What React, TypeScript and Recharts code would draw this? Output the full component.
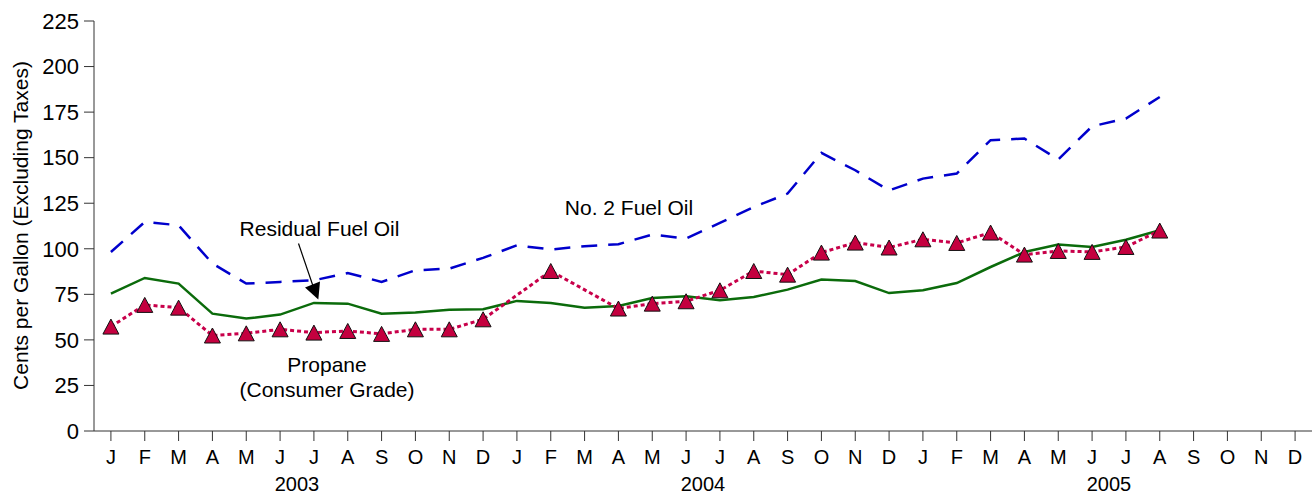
import React from "react";
import { LineChart, Line, XAxis, YAxis } from "recharts";

const months = [
  "J", "F", "M", "A", "M", "J", "J", "A", "S", "O", "N", "D",
  "J", "F", "M", "A", "M", "J", "J", "A", "S", "O", "N", "D",
  "J", "F", "M", "A", "M", "J", "J", "A", "S", "O", "N", "D",
];

const years = ["2003", "2004", "2005"];

// cents per gallon, Jan 2003 - Aug 2005
const no2FuelOil = [
  98.2, 114.7, 112.9, 91.9, 80.9, 81.8, 82.7, 86.7, 81.8, 88.2, 89.1, 95.0,
  101.9, 99.6, 101.4, 102.5, 107.8, 105.6, 114.2, 122.9, 130.3, 152.6, 143.1, 132.0,
  138.5, 141.3, 159.6, 160.5, 149.0, 167.2, 171.5, 183.3,
];

const residualFuelOil = [
  75.4, 84.0, 80.9, 64.4, 61.7, 63.9, 70.3, 69.9, 64.4, 65.0, 66.6, 66.8,
  71.4, 70.3, 67.7, 68.6, 73.0, 73.9, 71.7, 73.5, 77.6, 83.1, 82.3, 75.7,
  77.2, 81.2, 90.0, 98.2, 102.3, 101.0, 105.0, 110.2,
];

const propane: (number | null)[] = [
  57.3, 69.2, 67.7, 52.4, 53.6, 55.8, 54.0, 54.9, 53.3, 55.8, 55.8, 61.3,
  null, 87.8, null, 67.2, 69.9, 71.2, 77.2, 87.8, 85.8, 97.9, 103.4, 100.7,
  105.2, 103.2, 108.9, 96.8, 98.8, 98.3, 101.0, 110.0,
];

const data = months.map((m, i) => ({
  idx: i,
  month: m,
  no2: i < no2FuelOil.length ? no2FuelOil[i] : null,
  resid: i < residualFuelOil.length ? residualFuelOil[i] : null,
  propane: i < propane.length ? propane[i] : null,
}));

const monthTicks = months.map((_, i) => i);
const yearTicks = years.map((_, i) => i * 12 + 5.5);
const yTicks = [0, 25, 50, 75, 100, 125, 150, 175, 200, 225];

const FONT = "'Liberation Sans', Arial, sans-serif";

const Triangle = (props: any) => {
  const { cx, cy, value, index } = props;
  if (value == null || cx == null || cy == null) return <g key={index} />;
  return (
    <polygon
      key={index}
      points={`${cx},${cy - 7.5} ${cx - 8},${cy + 7.5} ${cx + 8},${cy + 7.5}`}
      fill="#C4003F"
      stroke="#111"
      strokeWidth={1}
    />
  );
};

export default function App() {
  return (
    <div style={{ position: "absolute", left: 0, top: 0, fontFamily: FONT }}>
      <LineChart
        width={1312}
        height={495}
        data={data}
        margin={{ top: 21, right: 0, left: 0, bottom: 0 }}
      >
        <XAxis
          dataKey="idx"
          type="number"
          domain={[-0.5, 35.5]}
          ticks={monthTicks}
          interval={0}
          tickFormatter={(v: number) => months[v]}
          height={38}
          tickSize={10}
          tickMargin={9}
          stroke="#333"
          tick={{ fill: "#000", fontSize: 20, fontFamily: FONT }}
        />
        <XAxis
          xAxisId="year"
          dataKey="idx"
          type="number"
          domain={[-0.5, 35.5]}
          ticks={yearTicks}
          interval={0}
          tickFormatter={(v: number) => years[Math.round((v - 5.5) / 12)]}
          height={26}
          axisLine={false}
          tickLine={false}
          tickSize={4}
          tickMargin={4}
          tick={{ fill: "#000", fontSize: 20, fontFamily: FONT }}
        />
        <YAxis
          domain={[0, 225]}
          ticks={yTicks}
          interval={0}
          width={94}
          tickSize={10}
          tickMargin={5}
          stroke="#333"
          tick={{ fill: "#000", fontSize: 22, fontFamily: FONT }}
        />
        <Line
          dataKey="no2"
          type="linear"
          stroke="#0000CC"
          strokeWidth={2.5}
          strokeDasharray="16 11"
          dot={false}
          isAnimationActive={false}
        />
        <Line
          dataKey="resid"
          type="linear"
          stroke="#0B6B0B"
          strokeWidth={2.5}
          dot={false}
          isAnimationActive={false}
        />
        <Line
          dataKey="propane"
          type="linear"
          stroke="#C8004A"
          strokeWidth={3}
          strokeDasharray="4 3"
          connectNulls
          dot={Triangle}
          isAnimationActive={false}
        />
        <text
          x={28}
          y={225.5}
          transform="rotate(-90, 28, 225.5)"
          textAnchor="middle"
          fontSize={21}
          fontFamily={FONT}
          fill="#000"
        >
          Cents per Gallon (Excluding Taxes)
        </text>
        <text x={629} y={214.5} textAnchor="middle" fontSize={21} fontFamily={FONT} fill="#000">
          No. 2 Fuel Oil
        </text>
        <text x={319.5} y={236} textAnchor="middle" fontSize={21} fontFamily={FONT} fill="#000">
          Residual Fuel Oil
        </text>
        <text x={327} y={372} textAnchor="middle" fontSize={21} fontFamily={FONT} fill="#000">
          Propane
        </text>
        <text x={327} y={397} textAnchor="middle" fontSize={21} fontFamily={FONT} fill="#000">
          (Consumer Grade)
        </text>
        <line x1={298.5} y1={243.5} x2={313} y2={286} stroke="#000" strokeWidth={1.2} />
        <polygon points="305,287.5 320,281.5 318.3,299.5" fill="#000" />
      </LineChart>
    </div>
  );
}
